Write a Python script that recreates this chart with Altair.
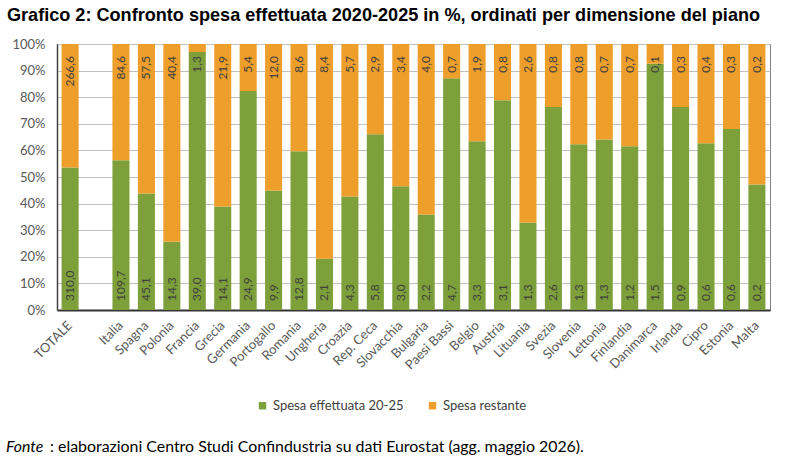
import altair as alt
import pandas as pd

paesi = ["TOTALE", "Italia", "Spagna", "Polonia", "Francia", "Grecia", "Germania",
         "Portogallo", "Romania", "Ungheria", "Croazia", "Rep. Ceca", "Slovacchia",
         "Bulgaria", "Paesi Bassi", "Belgio", "Austria", "Lituania", "Svezia",
         "Slovenia", "Lettonia", "Finlandia", "Danimarca", "Irlanda", "Cipro",
         "Estonia", "Malta"]
spesa_effettuata = [310.0, 109.7, 45.1, 14.3, 39.0, 14.1, 24.9, 9.9, 12.8, 2.1, 4.3,
                    5.8, 3.0, 2.2, 4.7, 3.3, 3.1, 1.3, 2.6, 1.3, 1.3, 1.2, 1.5, 0.9,
                    0.6, 0.6, 0.2]
spesa_restante = [266.6, 84.6, 57.5, 40.4, 1.3, 21.9, 5.4, 12.0, 8.6, 8.4, 5.7, 2.9,
                  3.4, 4.0, 0.7, 1.9, 0.8, 2.6, 0.8, 0.8, 0.7, 0.7, 0.1, 0.3, 0.4,
                  0.3, 0.2]
quota_effettuata = [53.6, 56.3, 43.8, 25.7, 97.0, 38.9, 82.3, 44.9, 59.7, 19.3, 42.7,
                    66.1, 46.5, 35.9, 87.1, 63.4, 78.9, 32.9, 76.3, 62.3, 64.1, 61.6,
                    92.6, 76.3, 62.7, 68.0, 47.2]

serie = ["Spesa effettuata 20-25", "Spesa restante"]
colori = ["#7DA03A", "#EE9E2A"]
ordine = ["TOTALE", " "] + paesi[1:]
titolo = "Grafico 2: Confronto spesa effettuata 2020-2025 in %, ordinati per dimensione del piano"
fonte_a = "Fonte"
fonte_b = ": elaborazioni Centro Studi Confindustria su dati Eurostat (agg. maggio 2026)."

rows = []
for p, se, sr, q in zip(paesi, spesa_effettuata, spesa_restante, quota_effettuata):
    rows.append({"paese": p, "serie": serie[0], "y0": 0.0, "y1": q,
                 "val": se, "ord": 0})
    rows.append({"paese": p, "serie": serie[1], "y0": q, "y1": 100.0,
                 "val": sr, "ord": 1})
df = pd.DataFrame(rows)

FONT = "Lato"
TXT = "#404040"
GRAY = "#595959"

x_scale = alt.Scale(domain=ordine, paddingInner=0.33, paddingOuter=0.18)
x_axis = alt.Axis(title=None, labelAngle=-45, labelFontSize=13,
                  labelColor=GRAY, labelFont=FONT, ticks=False,
                  labelAlign="right", labelBaseline="middle",
                  domainColor="#333333", domainWidth=2, labelPadding=13)
y_scale = alt.Scale(domain=[0, 100], nice=False)
y_axis = alt.Axis(title=None, values=list(range(0, 101, 10)),
                  labelExpr="datum.value + '%'", labelFontSize=13,
                  labelColor=GRAY, labelFont=FONT, ticks=False,
                  labelPadding=12, domainColor="#404040", domainWidth=1.5,
                  gridColor="#c0c0c0", gridWidth=1.2, labelOverlap=False)

base = alt.Chart(df)

bars = base.mark_bar().encode(
    x=alt.X("paese:N", sort=ordine, scale=x_scale, axis=x_axis),
    y=alt.Y("y0:Q", scale=y_scale, axis=y_axis),
    y2="y1:Q",
    color=alt.Color("serie:N", scale=alt.Scale(domain=serie, range=colori),
                    legend=alt.Legend(title=None, orient="none", direction="horizontal",
                                      legendX=199, legendY=355, symbolType="square",
                                      symbolSize=55, labelFontSize=13, labelFont=FONT,
                                      labelColor=TXT, columnPadding=22, labelOffset=4,
                                      symbolStrokeWidth=0)),
)

lab_base = base.transform_calculate(
    lab="replace(format(datum.val, '.1f'), '.', ',')"
)

lab_g = lab_base.transform_filter(alt.datum.ord == 0).mark_text(
    angle=270, align="left", baseline="middle", dx=9, fontSize=12,
    font=FONT, color=TXT
).encode(x=alt.X("paese:N", sort=ordine, scale=x_scale, axis=x_axis),
         y=alt.Y(datum=0, scale=y_scale, axis=y_axis), text="lab:N")

lab_o = lab_base.transform_filter(alt.datum.ord == 1).mark_text(
    angle=270, align="right", baseline="middle", dx=-12, fontSize=12,
    font=FONT, color=TXT
).encode(x=alt.X("paese:N", sort=ordine, scale=x_scale, axis=x_axis),
         y=alt.Y(datum=100, scale=y_scale, axis=y_axis), text="lab:N")

title_mark = alt.Chart(pd.DataFrame({"t": [titolo]})).mark_text(
    align="left", baseline="alphabetic", fontSize=18.1, font="Liberation Sans",
    fontWeight="bold", color="black"
).encode(x=alt.value(-50), y=alt.value(-23), text="t:N")

fonte1 = alt.Chart(pd.DataFrame({"t": [fonte_a]})).mark_text(
    align="left", baseline="alphabetic", fontSize=15.9, font=FONT,
    fontStyle="italic", color="black"
).encode(x=alt.value(-51), y=alt.value(408), text="t:N")

fonte2 = alt.Chart(pd.DataFrame({"t": [fonte_b]})).mark_text(
    align="left", baseline="alphabetic", fontSize=15.9, font=FONT, color="black"
).encode(x=alt.value(-7), y=alt.value(408), text="t:N")

chart = alt.layer(bars, lab_g, lab_o, title_mark, fonte1, fonte2).properties(
    width=713, height=266,
    autosize=alt.AutoSizeParams(type="none"),
    padding={"left": 57, "top": 44, "right": 15, "bottom": 148},
).configure_view(stroke="#808080", strokeWidth=1)

chart.save("out.html", embed_options={"renderer": "svg", "actions": False})
